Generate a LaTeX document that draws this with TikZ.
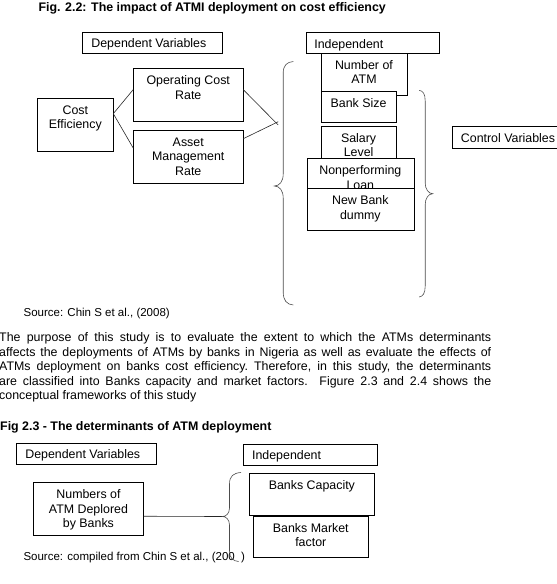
\documentclass[tikz,border=0pt]{standalone}
\usepackage{fontspec}
\setmainfont{Liberation Sans}
\newcommand\bodysize{\fontsize{12.4pt}{14.5pt}\selectfont}
\newcommand\srcsize{\fontsize{11.5pt}{13pt}\selectfont}
\tikzset{
	box/.style={draw=black,line width=0.7pt,fill=white,anchor=north west,inner sep=0pt},
	txt/.style={inner sep=0pt,align=center,anchor=north,font=\bodysize},
	ltxt/.style={inner sep=0pt,anchor=base west,font=\bodysize},
	brace/.style={draw=black!70,line width=0.6pt},
	link/.style={draw=black!85,line width=0.6pt},
}
\begin{document}
\begin{tikzpicture}[x=1pt,y=-1pt]
	\useasboundingbox (0,0) rectangle (557,584);
	\node[ltxt,font=\bodysize\bfseries] (title1) at (38.4,11.8) {Fig. 2.2: The impact of ATMI deployment on cost efficiency};
	\node[box,minimum width=140pt,minimum height=21.6pt] (dep1) at (82.4,31.7) {};
	\node[ltxt] (dep1t) at ([xshift=8.8pt,yshift=-5pt]dep1.west) {Dependent Variables};
	\node[box,minimum width=133.9pt,minimum height=21pt] (ind1) at (305.5,32.3) {};
	\node[ltxt] (ind1t) at ([xshift=8.6pt,yshift=-5pt]ind1.west) {Independent};
	\node[box,minimum width=75.3pt,minimum height=53pt] (ce) at (37.3,98.3) {};
	\node[txt] (cet) at ([yshift=-7.2pt]ce.north) {Cost\\Efficiency};
	\node[box,minimum width=109.4pt,minimum height=53pt] (opc) at (133.2,68.3) {};
	\node[txt] (opct) at ([yshift=-7.2pt]opc.north) {Operating Cost\\Rate};
	\node[box,minimum width=109.4pt,minimum height=52.7pt] (amr) at (133.2,130.3) {};
	\node[txt] (amrt) at ([yshift=-7.2pt]amr.north) {Asset\\Management\\Rate};
	\node[box,minimum width=86.2pt,minimum height=42.3pt] (natm) at (320.5,52.7) {};
	\node[txt] (natmt) at ([yshift=-7.2pt]natm.north) {Number of\\ATM};
	\node[box,minimum width=75.5pt,minimum height=31.6pt] (bsize) at (320.5,90.7) {};
	\node[txt] (bsizet) at ([yshift=-7.2pt]bsize.north) {Bank Size};
	\node[box,minimum width=75.5pt,minimum height=40pt] (sal) at (320.5,125.7) {};
	\node[txt] (salt) at ([yshift=-7.2pt]sal.north) {Salary\\Level};
	\node[box,minimum width=107pt,minimum height=30pt] (npl) at (306.5,158.3) {};
	\node[txt] (nplt) at ([yshift=-7.2pt]npl.north) {Nonperforming\\Loan};
	\node[box,minimum width=107pt,minimum height=41.7pt] (nbd) at (306.5,188.3) {};
	\node[txt] (nbdt) at ([yshift=-7.2pt]nbd.north) {New Bank\\dummy};
	\node[box,minimum width=115pt,minimum height=21.7pt] (ctrl) at (451.9,126) {};
	\node[ltxt] (ctrlt) at ([xshift=8.8pt,yshift=-5pt]ctrl.west) {Control Variables};
	\coordinate (xo1) at (278.2,125);
	\coordinate (xo2) at (278.2,121.7);
	\draw[link] ([yshift=11.5pt]ce.east) -- ([yshift=5.5pt]opc.west);
	\draw[link] ([yshift=11.5pt]ce.east) -- ([yshift=9pt]amr.west);
	\draw[link] ([yshift=5.5pt]opc.east) -- (xo1);
	\draw[link] ([yshift=18.3pt]amr.east) -- (xo2);
	\coordinate (ltip) at (274.3,186);
	\draw[brace] (293.3,61.5) .. controls (286.8,62) and (283.2,65.5) .. (283.2,73)
		-- (283.2,174) .. controls (283.2,181.5) and (279.5,186) .. (ltip)
		.. controls (279.5,186) and (283.2,190.5) .. (283.2,198)
		-- (283.2,292) .. controls (283.2,300.5) and (286.8,304.5) .. (293.3,305);
	\coordinate (rtip) at (432.7,193.7);
	\draw[brace] (419.2,90.3) .. controls (423,90.8) and (425.2,94) .. (425.2,101)
		-- (425.2,183) .. controls (425.2,189) and (428.5,193.7) .. (rtip)
		.. controls (428.5,193.7) and (425.2,198.5) .. (425.2,204.5)
		-- (425.2,286) .. controls (425.2,293) and (423,296.5) .. (419.2,297);
	\node[ltxt,font=\srcsize] (src1) at (23.4,316.8) {Source: Chin S et al., (2008)};
	\node[inner sep=0pt,anchor=base west,text width=492pt,align=justify,font=\bodysize] (purpose) at (-1,341.7)
		{\frenchspacing\tolerance=10000\hyphenpenalty=10000
		The purpose of this study is to evaluate the extent to which the ATMs determinants\linebreak
		affects the deployments of ATMs by banks in Nigeria as well as evaluate the effects of\linebreak
		ATMs deployment on banks cost efficiency. Therefore, in this study, the determinants\linebreak
		are classified into Banks capacity and market factors.~ Figure 2.3 and 2.4 shows the\linebreak
		conceptual frameworks of this study};
	\node[ltxt,font=\bodysize\bfseries] (title2) at (0,430.5) {Fig 2.3 - The determinants of ATM deployment};
	\node[box,minimum width=140pt,minimum height=21.6pt] (dep2) at (16.3,442.7) {};
	\node[ltxt] (dep2t) at ([xshift=8.8pt,yshift=-5pt]dep2.west) {Dependent Variables};
	\node[box,minimum width=134pt,minimum height=21.6pt] (ind2) at (243.3,443.7) {};
	\node[ltxt] (ind2t) at ([xshift=8.6pt,yshift=-5pt]ind2.west) {Independent};
	\node[box,minimum width=109.4pt,minimum height=53pt] (natmb) at (33.4,482.3) {};
	\node[txt] (natmbt) at ([yshift=-7.2pt]natmb.north) {Numbers of\\ATM Deplored\\by Banks};
	\node[box,minimum width=124.4pt,minimum height=41.7pt] (bcap) at (249.3,473.3) {};
	\node[txt] (bcapt) at ([yshift=-7.2pt]bcap.north) {Banks Capacity};
	\node[box,minimum width=115.9pt,minimum height=40.7pt] (bmkt) at (252.5,516) {};
	\node[txt] (bmktt) at ([yshift=-7.2pt]bmkt.north) {Banks Market\\factor};
	\node[ltxt,font=\srcsize] (src2) at (23.3,560.8) {Source: compiled from Chin S et al., (200\phantom{8})};
	\coordinate (btip) at (222.5,516.5);
	\draw[link] ([yshift=-7.1pt]natmb.east) -- (btip);
	\draw[brace] (241,472.5) .. controls (233.5,473) and (229.5,476) .. (229.5,484)
		-- (229.5,508) .. controls (229.5,513.5) and (226,516.5) .. (btip)
		.. controls (226,516.5) and (229.5,519.5) .. (229.5,525)
		-- (229.5,551) .. controls (229.5,558) and (233,561) .. (238.5,561.5);
\end{tikzpicture}
\end{document}
